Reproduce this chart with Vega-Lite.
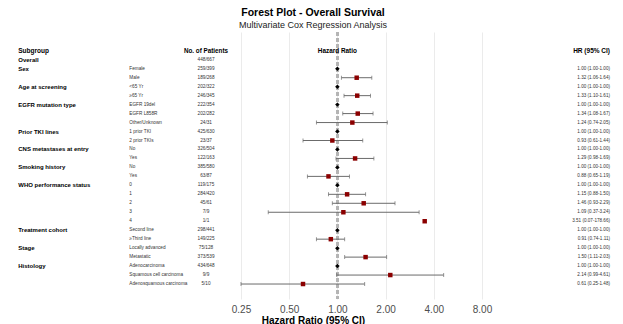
{
  "$schema": "https://vega.github.io/schema/vega-lite/v6.json",
  "autosize": {"type": "none"},
  "width": 618,
  "height": 267,
  "padding": {"left": 4, "top": 32, "right": 1, "bottom": 25},
  "background": "white",
  "config": {"font": "Liberation Sans", "view": {"stroke": null}},
  "title": {
    "text": "Forest Plot - Overall Survival",
    "subtitle": "Multivariate Cox Regression Analysis",
    "fontSize": 10.5,
    "fontWeight": "bold",
    "color": "#000000",
    "subtitleFontSize": 9,
    "subtitleColor": "#222222",
    "subtitlePadding": 3,
    "anchor": "middle",
    "offset": 1
  },
  "data": {
    "values": [
      {"head": true, "group": "Subgroup", "level": "", "n": "No. of Patients", "label": "HR (95% CI)", "plot": "Hazard Ratio"},
      {"group": "Overall", "level": "", "n": "448/667", "label": ""},
      {"group": "Sex", "level": "Female", "n": "259/399", "hr": 1, "lo": 1, "hi": 1, "ref": true, "label": "1.00 (1.00-1.00)"},
      {"group": "", "level": "Male", "n": "189/268", "hr": 1.32, "lo": 1.06, "hi": 1.64, "ref": false, "label": "1.32 (1.06-1.64)"},
      {"group": "Age at screening", "level": "<65 Yr", "n": "202/322", "hr": 1, "lo": 1, "hi": 1, "ref": true, "label": "1.00 (1.00-1.00)"},
      {"group": "", "level": "≥65 Yr", "n": "246/345", "hr": 1.33, "lo": 1.10, "hi": 1.61, "ref": false, "label": "1.33 (1.10-1.61)"},
      {"group": "EGFR mutation type", "level": "EGFR 19del", "n": "222/354", "hr": 1, "lo": 1, "hi": 1, "ref": true, "label": "1.00 (1.00-1.00)"},
      {"group": "", "level": "EGFR L858R", "n": "202/282", "hr": 1.34, "lo": 1.08, "hi": 1.67, "ref": false, "label": "1.34 (1.08-1.67)"},
      {"group": "", "level": "Other/Unknown", "n": "24/31", "hr": 1.24, "lo": 0.74, "hi": 2.05, "ref": false, "label": "1.24 (0.74-2.05)"},
      {"group": "Prior TKI lines", "level": "1 prior TKI", "n": "425/630", "hr": 1, "lo": 1, "hi": 1, "ref": true, "label": "1.00 (1.00-1.00)"},
      {"group": "", "level": "2 prior TKIs", "n": "23/37", "hr": 0.93, "lo": 0.61, "hi": 1.44, "ref": false, "label": "0.93 (0.61-1.44)"},
      {"group": "CNS metastases at entry", "level": "No", "n": "326/504", "hr": 1, "lo": 1, "hi": 1, "ref": true, "label": "1.00 (1.00-1.00)"},
      {"group": "", "level": "Yes", "n": "122/163", "hr": 1.29, "lo": 0.98, "hi": 1.69, "ref": false, "label": "1.29 (0.98-1.69)"},
      {"group": "Smoking history", "level": "No", "n": "385/580", "hr": 1, "lo": 1, "hi": 1, "ref": true, "label": "1.00 (1.00-1.00)"},
      {"group": "", "level": "Yes", "n": "63/87", "hr": 0.88, "lo": 0.65, "hi": 1.19, "ref": false, "label": "0.88 (0.65-1.19)"},
      {"group": "WHO performance status", "level": "0", "n": "119/175", "hr": 1, "lo": 1, "hi": 1, "ref": true, "label": "1.00 (1.00-1.00)"},
      {"group": "", "level": "1", "n": "284/420", "hr": 1.15, "lo": 0.88, "hi": 1.50, "ref": false, "label": "1.15 (0.88-1.50)"},
      {"group": "", "level": "2", "n": "45/61", "hr": 1.46, "lo": 0.93, "hi": 2.29, "ref": false, "label": "1.46 (0.93-2.29)"},
      {"group": "", "level": "3", "n": "7/9", "hr": 1.09, "lo": 0.37, "hi": 3.24, "ref": false, "label": "1.09 (0.37-3.24)"},
      {"group": "", "level": "4", "n": "1/1", "hr": 3.51, "lo": 0.07, "hi": 178.66, "ref": false, "label": "3.51 (0.07-178.66)"},
      {"group": "Treatment cohort", "level": "Second line", "n": "298/441", "hr": 1, "lo": 1, "hi": 1, "ref": true, "label": "1.00 (1.00-1.00)"},
      {"group": "", "level": "≥Third line", "n": "149/225", "hr": 0.91, "lo": 0.74, "hi": 1.11, "ref": false, "label": "0.91 (0.74-1.11)"},
      {"group": "Stage", "level": "Locally advanced", "n": "75/128", "hr": 1, "lo": 1, "hi": 1, "ref": true, "label": "1.00 (1.00-1.00)"},
      {"group": "", "level": "Metastatic", "n": "373/539", "hr": 1.50, "lo": 1.11, "hi": 2.03, "ref": false, "label": "1.50 (1.11-2.03)"},
      {"group": "Histology", "level": "Adenocarcinoma", "n": "434/648", "hr": 1, "lo": 1, "hi": 1, "ref": true, "label": "1.00 (1.00-1.00)"},
      {"group": "", "level": "Squamous cell carcinoma", "n": "9/9", "hr": 2.14, "lo": 0.99, "hi": 4.61, "ref": false, "label": "2.14 (0.99-4.61)"},
      {"group": "", "level": "Adenosquamous carcinoma", "n": "5/10", "hr": 0.61, "lo": 0.25, "hi": 1.48, "ref": false, "label": "0.61 (0.25-1.48)"}
    ]
  },
  "transform": [{"window": [{"op": "row_number", "as": "row"}]}],
  "resolve": {"scale": {"x": "independent"}, "axis": {"x": "independent"}},
  "layer": [
    {
      "layer": [
        {
          "mark": {"type": "text", "align": "left", "baseline": "middle", "fontWeight": "bold", "color": "#000000"},
          "encoding": {
            "x": {"datum": 0.0231, "type": "quantitative", "scale": {"domain": [0, 1], "nice": false, "zero": false}, "axis": null},
            "y": {"field": "row", "type": "quantitative", "scale": {"domain": [-1.096, 28.67], "reverse": true, "nice": false, "zero": false}, "axis": null},
            "text": {"field": "group"},
            "size": {"condition": {"test": "datum.head === true", "value": 6.5}, "value": 6}
          }
        },
        {
          "transform": [{"filter": "datum.head !== true"}],
          "mark": {"type": "text", "align": "left", "baseline": "middle", "fontSize": 4.7, "color": "#333333"},
          "encoding": {
            "x": {"datum": 0.2028, "type": "quantitative", "scale": {"domain": [0, 1], "nice": false, "zero": false}, "axis": null},
            "y": {"field": "row", "type": "quantitative", "scale": {"domain": [-1.096, 28.67], "reverse": true, "nice": false, "zero": false}, "axis": null},
            "text": {"field": "level"}
          }
        },
        {
          "transform": [{"filter": "datum.head !== true"}],
          "mark": {"type": "text", "align": "center", "baseline": "middle", "fontSize": 4.7, "color": "#333333"},
          "encoding": {
            "x": {"datum": 0.3269, "type": "quantitative", "scale": {"domain": [0, 1], "nice": false, "zero": false}, "axis": null},
            "y": {"field": "row", "type": "quantitative", "scale": {"domain": [-1.096, 28.67], "reverse": true, "nice": false, "zero": false}, "axis": null},
            "text": {"field": "n"}
          }
        },
        {
          "transform": [{"filter": "datum.head === true"}],
          "mark": {"type": "text", "align": "center", "baseline": "middle", "fontSize": 6.3, "fontWeight": "bold", "color": "#000000"},
          "encoding": {
            "x": {"datum": 0.3269, "type": "quantitative", "scale": {"domain": [0, 1], "nice": false, "zero": false}, "axis": null},
            "y": {"field": "row", "type": "quantitative", "scale": {"domain": [-1.096, 28.67], "reverse": true, "nice": false, "zero": false}, "axis": null},
            "text": {"field": "n"}
          }
        },
        {
          "transform": [{"filter": "datum.head !== true"}],
          "mark": {"type": "text", "align": "right", "baseline": "middle", "fontSize": 4.6, "color": "#333333"},
          "encoding": {
            "x": {"datum": 0.9806, "type": "quantitative", "scale": {"domain": [0, 1], "nice": false, "zero": false}, "axis": null},
            "y": {"field": "row", "type": "quantitative", "scale": {"domain": [-1.096, 28.67], "reverse": true, "nice": false, "zero": false}, "axis": null},
            "text": {"field": "label"}
          }
        },
        {
          "transform": [{"filter": "datum.head === true"}],
          "mark": {"type": "text", "align": "right", "baseline": "middle", "fontSize": 6.5, "fontWeight": "bold", "color": "#000000"},
          "encoding": {
            "x": {"datum": 0.9806, "type": "quantitative", "scale": {"domain": [0, 1], "nice": false, "zero": false}, "axis": null},
            "y": {"field": "row", "type": "quantitative", "scale": {"domain": [-1.096, 28.67], "reverse": true, "nice": false, "zero": false}, "axis": null},
            "text": {"field": "label"}
          }
        }
      ]
    },
    {
      "layer": [
        {
          "mark": {"type": "rule", "color": "#b5b5b5", "strokeWidth": 2, "strokeDash": [4, 2]},
          "encoding": {
            "x": {
              "datum": 1,
              "type": "quantitative",
              "scale": {"type": "log", "domain": [0.008276, 59.92], "nice": false, "zero": false},
              "axis": {
                "values": [0.25, 0.5, 1, 2, 4, 8],
                "format": ".2f",
                "grid": true,
                "gridColor": "#ebebeb",
                "gridWidth": 1,
                "domain": false,
                "ticks": false,
                "labelFontSize": 10,
                "labelColor": "#4d4d4d",
                "labelPadding": 5,
                "labelFlush": false,
                "title": "Hazard Ratio (95% CI)",
                "titleFontSize": 10,
                "titleFontWeight": "bold",
                "titleColor": "#000000",
                "titlePadding": 1
              }
            }
          }
        },
        {
          "transform": [{"filter": "datum.ref === false && datum.lo >= 0.2 && datum.hi <= 10"}],
          "mark": {"type": "rule", "color": "#6b6b6b", "strokeWidth": 1},
          "encoding": {
            "x": {"field": "lo", "type": "quantitative", "scale": {"type": "log", "domain": [0.008276, 59.92], "nice": false, "zero": false}},
            "x2": {"field": "hi"},
            "y": {"field": "row", "type": "quantitative", "scale": {"domain": [-1.096, 28.67], "reverse": true, "nice": false, "zero": false}, "axis": null}
          }
        },
        {
          "transform": [{"filter": "datum.ref === false && datum.lo >= 0.2 && datum.hi <= 10"}],
          "mark": {"type": "tick", "orient": "vertical", "color": "#6b6b6b", "size": 4, "thickness": 1},
          "encoding": {
            "x": {"field": "lo", "type": "quantitative", "scale": {"type": "log", "domain": [0.008276, 59.92], "nice": false, "zero": false}},
            "y": {"field": "row", "type": "quantitative", "scale": {"domain": [-1.096, 28.67], "reverse": true, "nice": false, "zero": false}, "axis": null}
          }
        },
        {
          "transform": [{"filter": "datum.ref === false && datum.lo >= 0.2 && datum.hi <= 10"}],
          "mark": {"type": "tick", "orient": "vertical", "color": "#6b6b6b", "size": 4, "thickness": 1},
          "encoding": {
            "x": {"field": "hi", "type": "quantitative", "scale": {"type": "log", "domain": [0.008276, 59.92], "nice": false, "zero": false}},
            "y": {"field": "row", "type": "quantitative", "scale": {"domain": [-1.096, 28.67], "reverse": true, "nice": false, "zero": false}, "axis": null}
          }
        },
        {
          "transform": [{"filter": "datum.ref === true"}],
          "mark": {"type": "point", "shape": "diamond", "filled": true, "color": "#000000", "size": 20, "opacity": 1},
          "encoding": {
            "x": {"field": "hr", "type": "quantitative", "scale": {"type": "log", "domain": [0.008276, 59.92], "nice": false, "zero": false}},
            "y": {"field": "row", "type": "quantitative", "scale": {"domain": [-1.096, 28.67], "reverse": true, "nice": false, "zero": false}, "axis": null}
          }
        },
        {
          "transform": [{"filter": "datum.ref === false"}],
          "mark": {"type": "point", "shape": "square", "filled": true, "color": "#8b0000", "size": 20, "opacity": 1},
          "encoding": {
            "x": {"field": "hr", "type": "quantitative", "scale": {"type": "log", "domain": [0.008276, 59.92], "nice": false, "zero": false}},
            "y": {"field": "row", "type": "quantitative", "scale": {"domain": [-1.096, 28.67], "reverse": true, "nice": false, "zero": false}, "axis": null}
          }
        },
        {
          "transform": [{"filter": "datum.head === true"}],
          "mark": {"type": "text", "align": "center", "baseline": "middle", "fontSize": 6.4, "fontWeight": "bold", "color": "#000000"},
          "encoding": {
            "x": {"datum": 1, "type": "quantitative", "scale": {"type": "log", "domain": [0.008276, 59.92], "nice": false, "zero": false}},
            "y": {"field": "row", "type": "quantitative", "scale": {"domain": [-1.096, 28.67], "reverse": true, "nice": false, "zero": false}, "axis": null},
            "text": {"field": "plot"}
          }
        }
      ]
    }
  ]
}
